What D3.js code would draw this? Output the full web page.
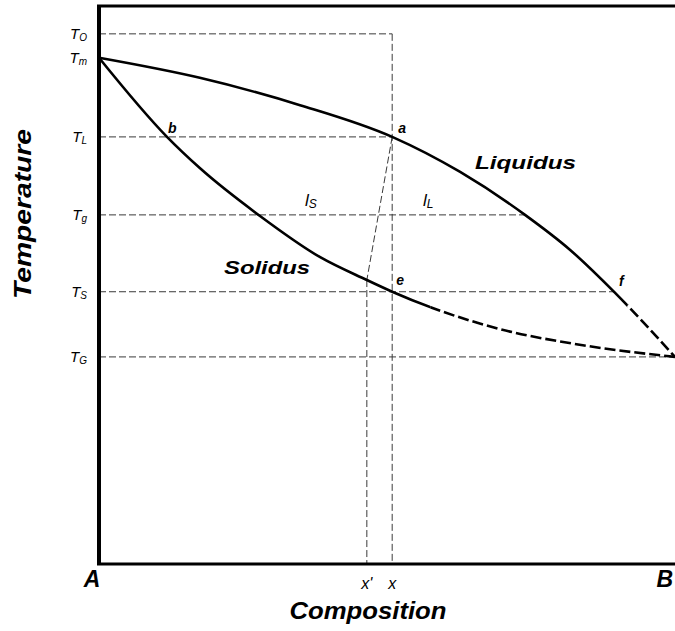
<!DOCTYPE html>
<html><head><meta charset="utf-8">
<script src="https://cdn.jsdelivr.net/npm/d3@7"></script>
<style>body{margin:0;background:#fff}svg{display:block}</style>
</head><body>
<svg id="chart" width="675" height="631"></svg>
<script>
// ---- data (composition in % B, temperature in arbitrary units) ----
const liquidusComp = [0, 17.5, 34.9, 50.9, 62.7, 73.96, 81.8, 89.6, 100];
const liquidusTemp = [90.7, 87.1, 82.2, 76.5, 70.2, 62.5, 56.2, 48.5, 37.0];
const solidusComp  = [0, 11.8, 17.5, 27.95, 38.4, 46.5, 50.9, 69.6, 84.0, 100];
const solidusTemp  = [90.7, 76.5, 70.9, 62.3, 54.9, 50.8, 48.7, 42.0, 39.1, 37.0];
const tempNames  = ["O", "m", "L", "g", "S", "G"];
const tempValues = [95.0, 90.7, 76.5, 62.5, 48.7, 37.0];
const compNames  = ["x'", "x"];
const compValues = [46.5, 50.9];
const liquidusSolidUntil = 91.7;
const solidusSolidUntil = 57.5;

const svg = d3.select("#chart");
const x = d3.scaleLinear().domain([0, 100]).range([99, 675]);
const y = d3.scaleLinear().domain([0, 100]).range([563, 6]);
const T = Object.fromEntries(tempNames.map((n, i) => [n, tempValues[i]]));
const xX = compValues[1], xP = compValues[0];
const liq = liquidusComp.map((c, i) => [c, liquidusTemp[i]]);
const sol = solidusComp.map((c, i) => [c, solidusTemp[i]]);
const font = "'Liberation Sans', Arial, sans-serif";

// guide dashed lines
const guides = [
  [[0, T.O], [xX, T.O]],
  [[xX, T.O], [xX, 0]],
  [[0, T.L], [xX, T.L]],
  [[0, T.g], [73.96, T.g]],
  [[0, T.S], [89.6, T.S]],
  [[0, T.G], [100, T.G]],
  [[xP, 50.8], [xP, 0]],
  [[xX, T.L], [xP, 50.8]]
];
const g = svg.append("g");
guides.forEach(seg => {
  g.append("line")
    .attr("x1", x(seg[0][0])).attr("y1", y(seg[0][1]))
    .attr("x2", x(seg[1][0])).attr("y2", y(seg[1][1]))
    .attr("stroke", "#3a3a3a").attr("stroke-width", 1)
    .attr("stroke-dasharray", "7,3");
});

// curves
const line = d3.line().x(d => x(d[0])).y(d => y(d[1])).curve(d3.curveMonotoneX);
const defs = svg.append("defs");
function clip(id, x0, x1) {
  defs.append("clipPath").attr("id", id).append("rect")
    .attr("x", x0).attr("y", 0).attr("width", x1 - x0).attr("height", 631);
}
clip("liqSolid", 0, x(liquidusSolidUntil));
clip("liqDash", x(liquidusSolidUntil), 700);
clip("solSolid", 0, x(solidusSolidUntil));
clip("solDash", x(solidusSolidUntil), 700);
[[liq, "liq"], [sol, "sol"]].forEach(([data, id]) => {
  svg.append("path").attr("d", line(data)).attr("fill", "none")
    .attr("stroke", "#000").attr("stroke-width", 2.6)
    .attr("clip-path", `url(#${id}Solid)`);
  svg.append("path").attr("d", line(data)).attr("fill", "none")
    .attr("stroke", "#000").attr("stroke-width", 2.6)
    .attr("stroke-dasharray", "11,4")
    .attr("clip-path", `url(#${id}Dash)`);
});

// frame
svg.append("line").attr("x1", 97).attr("x2", 675).attr("y1", y(100)).attr("y2", y(100))
  .attr("stroke", "#000").attr("stroke-width", 3);
svg.append("line").attr("x1", x(0)).attr("x2", x(0)).attr("y1", 5).attr("y2", 565)
  .attr("stroke", "#000").attr("stroke-width", 4);
svg.append("line").attr("x1", 97).attr("x2", 675).attr("y1", y(0) + 1).attr("y2", y(0) + 1)
  .attr("stroke", "#000").attr("stroke-width", 3);

// temperature labels
tempNames.forEach((n, i) => {
  const t = svg.append("text").attr("x", 87).attr("y", y(tempValues[i]) + 5)
    .attr("text-anchor", "end").attr("font-family", font).attr("font-style", "italic")
    .attr("font-size", 15).attr("fill", "#000");
  t.append("tspan").text("T");
  t.append("tspan").attr("font-size", 10).attr("dy", 2).text(n);
});

// composition labels
compNames.forEach((n, i) => {
  svg.append("text").attr("x", x(compValues[i])).attr("y", 589)
    .attr("text-anchor", "middle").attr("font-family", font).attr("font-style", "italic")
    .attr("font-size", 16).text(n);
});
const bold = (txt, px, py, size, anchor) => svg.append("text").attr("x", px).attr("y", py)
  .attr("text-anchor", anchor || "start").attr("font-family", font).attr("font-style", "italic")
  .attr("font-weight", "bold").attr("font-size", size).text(txt);
bold("A", x(0) - 7, 587, 23, "middle");
bold("B", 673, 587, 23, "end");

// point labels
bold("a", x(xX) + 6, y(T.L) - 4, 14);
bold("b", 168, y(T.L) - 4, 14);
bold("e", x(xX) + 4, y(T.S) - 7, 14);
bold("f", 619, y(T.S) - 6, 14);
bold("Liquidus", 475, 169, 19).attr("textLength", 101).attr("lengthAdjust", "spacingAndGlyphs");
bold("Solidus", 224, 274, 19).attr("textLength", 86).attr("lengthAdjust", "spacingAndGlyphs");

// lever labels
[["S", 305], ["L", 423]].forEach(([s, px]) => {
  const t = svg.append("text").attr("x", px).attr("y", 206).attr("font-family", font)
    .attr("font-style", "italic").attr("font-size", 17);
  t.append("tspan").text("l");
  t.append("tspan").attr("font-size", 12).attr("dy", 2).text(s);
});

// axis titles
bold("Composition", 368, 619, 23, "middle").attr("textLength", 157).attr("lengthAdjust", "spacingAndGlyphs");
bold("Temperature", 0, 0, 23, "middle").attr("transform", "translate(31,214) rotate(-90)")
  .attr("textLength", 170).attr("lengthAdjust", "spacingAndGlyphs");
</script>
</body></html>
